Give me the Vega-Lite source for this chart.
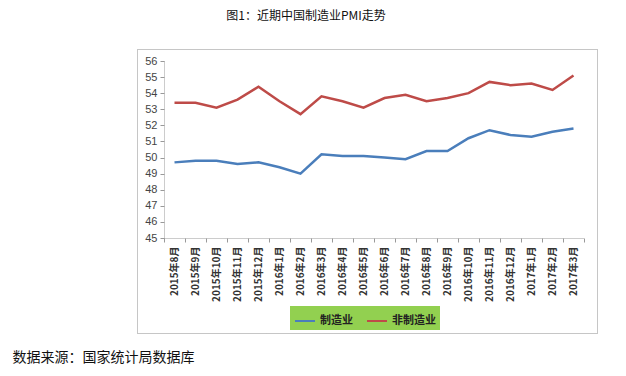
{
  "$schema": "https://vega.github.io/schema/vega-lite/v6.json",
  "autosize": "none",
  "width": 460,
  "height": 284,
  "padding": {"left": 137, "top": 49, "right": 29, "bottom": 43},
  "background": "white",
  "title": {
    "text": "图1：近期中国制造业PMI走势",
    "anchor": "middle",
    "frame": "group",
    "dx": -61,
    "offset": 26,
    "font": "Noto Sans CJK SC",
    "fontSize": 12,
    "fontWeight": "normal",
    "color": "#111"
  },
  "config": {
    "view": {"stroke": "#8c8c8c", "strokeDash": [1, 1], "strokeWidth": 1},
    "font": "Noto Sans CJK SC"
  },
  "data": {
    "values": [
      {"month": "2015年8月", "series": "制造业", "value": 49.7},
      {"month": "2015年9月", "series": "制造业", "value": 49.8},
      {"month": "2015年10月", "series": "制造业", "value": 49.8},
      {"month": "2015年11月", "series": "制造业", "value": 49.6},
      {"month": "2015年12月", "series": "制造业", "value": 49.7},
      {"month": "2016年1月", "series": "制造业", "value": 49.4},
      {"month": "2016年2月", "series": "制造业", "value": 49.0},
      {"month": "2016年3月", "series": "制造业", "value": 50.2},
      {"month": "2016年4月", "series": "制造业", "value": 50.1},
      {"month": "2016年5月", "series": "制造业", "value": 50.1},
      {"month": "2016年6月", "series": "制造业", "value": 50.0},
      {"month": "2016年7月", "series": "制造业", "value": 49.9},
      {"month": "2016年8月", "series": "制造业", "value": 50.4},
      {"month": "2016年9月", "series": "制造业", "value": 50.4},
      {"month": "2016年10月", "series": "制造业", "value": 51.2},
      {"month": "2016年11月", "series": "制造业", "value": 51.7},
      {"month": "2016年12月", "series": "制造业", "value": 51.4},
      {"month": "2017年1月", "series": "制造业", "value": 51.3},
      {"month": "2017年2月", "series": "制造业", "value": 51.6},
      {"month": "2017年3月", "series": "制造业", "value": 51.8},
      {"month": "2015年8月", "series": "非制造业", "value": 53.4},
      {"month": "2015年9月", "series": "非制造业", "value": 53.4},
      {"month": "2015年10月", "series": "非制造业", "value": 53.1},
      {"month": "2015年11月", "series": "非制造业", "value": 53.6},
      {"month": "2015年12月", "series": "非制造业", "value": 54.4},
      {"month": "2016年1月", "series": "非制造业", "value": 53.5},
      {"month": "2016年2月", "series": "非制造业", "value": 52.7},
      {"month": "2016年3月", "series": "非制造业", "value": 53.8},
      {"month": "2016年4月", "series": "非制造业", "value": 53.5},
      {"month": "2016年5月", "series": "非制造业", "value": 53.1},
      {"month": "2016年6月", "series": "非制造业", "value": 53.7},
      {"month": "2016年7月", "series": "非制造业", "value": 53.9},
      {"month": "2016年8月", "series": "非制造业", "value": 53.5},
      {"month": "2016年9月", "series": "非制造业", "value": 53.7},
      {"month": "2016年10月", "series": "非制造业", "value": 54.0},
      {"month": "2016年11月", "series": "非制造业", "value": 54.7},
      {"month": "2016年12月", "series": "非制造业", "value": 54.5},
      {"month": "2017年1月", "series": "非制造业", "value": 54.6},
      {"month": "2017年2月", "series": "非制造业", "value": 54.2},
      {"month": "2017年3月", "series": "非制造业", "value": 55.1}
    ]
  },
  "mark": {"type": "line", "strokeWidth": 2.5},
  "encoding": {
    "x": {
      "field": "month",
      "type": "ordinal",
      "sort": null,
      "scale": {"type": "band", "range": [27, 447], "paddingInner": 0, "paddingOuter": 0},
      "axis": {
        "offset": -95,
        "title": "数据来源：国家统计局数据库",
        "titleX": -125,
        "titleY": 119,
        "titleAlign": "left",
        "titleAnchor": "start",
        "titleBaseline": "middle",
        "titleAngle": 0,
        "titleFont": "Noto Sans CJK SC",
        "titleFontSize": 14,
        "titleFontWeight": "normal",
        "titleColor": "#111",
        "labelAngle": -90,
        "labelFont": "Noto Sans CJK SC",
        "labelFontSize": 10,
        "labelFontWeight": "bold",
        "labelColor": "#333",
        "labelPadding": 4,
        "tickBand": "extent",
        "tickColor": "#999",
        "tickSize": 4,
        "domainColor": "#999",
        "domainDash": [1, 1],
        "grid": false
      }
    },
    "y": {
      "field": "value",
      "type": "quantitative",
      "scale": {"domain": [45, 56], "range": [189, 12], "nice": false, "zero": false},
      "axis": {
        "offset": -27,
        "title": null,
        "values": [45, 46, 47, 48, 49, 50, 51, 52, 53, 54, 55, 56],
        "labelFont": "Liberation Sans",
        "labelFontSize": 11,
        "labelColor": "#444",
        "labelPadding": 3,
        "tickColor": "#999",
        "tickSize": 4,
        "domainColor": "#999",
        "domainDash": [1, 1],
        "grid": false
      }
    },
    "color": {
      "field": "series",
      "type": "nominal",
      "scale": {"domain": ["制造业", "非制造业"], "range": ["#4A7EBB", "#BE4B48"]},
      "legend": {
        "title": null,
        "orient": "none",
        "legendX": 153,
        "legendY": 257,
        "direction": "horizontal",
        "fillColor": "#92D050",
        "padding": 4,
        "columnPadding": 10,
        "symbolType": "stroke",
        "symbolSize": 400,
        "symbolStrokeWidth": 2,
        "labelFont": "Noto Sans CJK SC",
        "labelFontSize": 11,
        "labelFontWeight": "bold",
        "labelColor": "#222"
      }
    }
  }
}
